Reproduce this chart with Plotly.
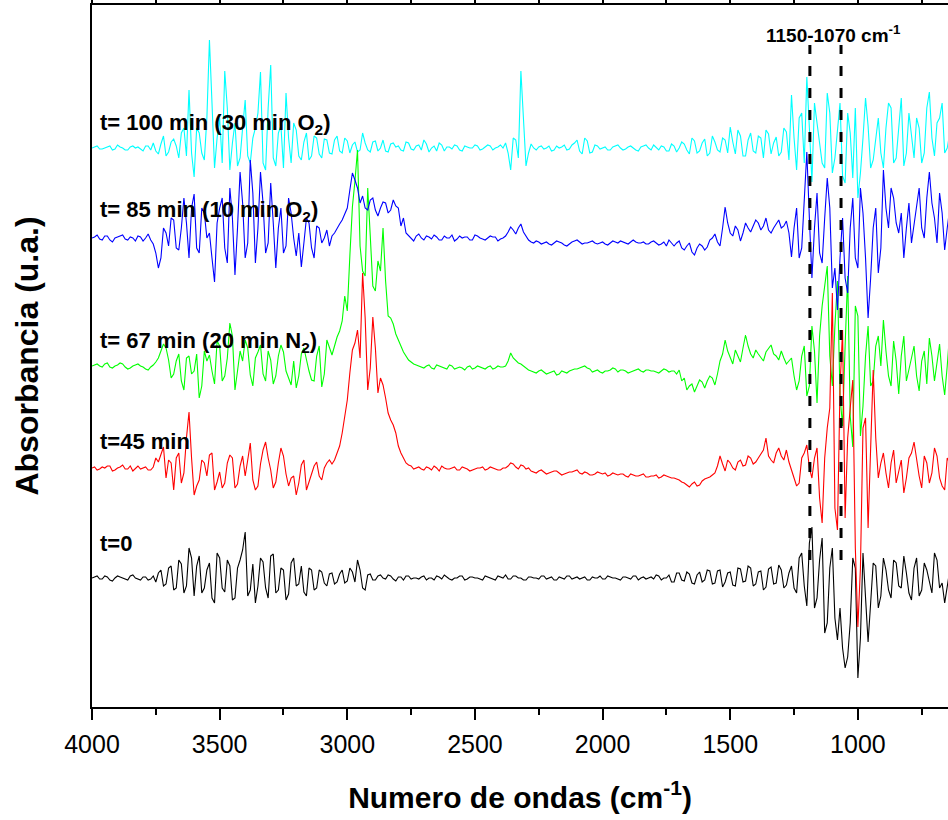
import plotly.graph_objects as go

# wavenumber grids (cm-1): main samples every 20 cm-1 and the samples lying in between
wavenumbers = list(range(4000, 639, -20))
wavenumbers_mid = list(range(3990, 649, -20))

# absorbance signals (arbitrary units), before stacking
abs_t0 = [0, 2, -1, 1, -3, 2, 0, -2, 3, -1, 1, -2, 2,
          5, -8, 10, -12, 18, -15, 30, -18, 22, -10, 15, -25, 20, -14, 12, -20, 18, 46, -12, -25,
          20, -10, 22, -15, 10, -22, 15, -8, 12, -18, 8, -10, 6, -8,
          5, -4, 8, -3, 6, 18, -10, 3,
          -2, 2, 0, 3, -1, 1, -2, 2, 0, -1, 2, 0, -2, 1, 3, -1, 0, 2, -2, 1,
          0, -1, 2, 0, -2, 1, 3, -1, 2, 0, -2, 1, 0, 2, -1, 1, -2, 0, 2, -1,
          1, 0, -2, 1, 0, -1, 2, 0, -1, 1, 0, 2, -2, 1, 0, -1, 2, 0,
          3, -4, 5, -3, 4, -6, 6, -2, 7, -5, 8, -4, 6, -8, 9, -3, 10, -6, 7, -9, 11, -5, 8, -7,
          12, -15, 25, -28, 51, -20, 40, -45, 30, -62, -70, -79, 20, -100, 25, -64, 15, -30, 20,
          -12, 18, -8, 22, -15, 10, -18, 15, -5, 25, -10, -25, 8]
abs_t0_mid = [1, -1, 2, -2, 0, 1, -1, 2, 0, -2, 1, -1,
              -4, 8, -6, 12, -10, 14, -8, 20,
              12, -15, 8, -20, 25, -10, 18, -22, 10, 28, -18, 14, -8, 16, -20, 24, -12, 8, -16, 20,
              -6, -14, 10, -12, 8, -5, 4,
              -6, 4, -5, 10, -4, 8, -12, 4, -2, 3, -1, 2, -3, 1, 2, -1, 0,
              1, -2, 0, 2, -1, 1, -2, 0, 2, -1, 1, 0, -2, 1, -1, 2, 0,
              -1, 2, 0, -2, 1, 0,
              -1, 2, 0, -2, 1, -1, 2, 0, -1, 1, -2, 0, 2, -1, 1, 0, -2, 1, -1, 2,
              0, -1, 1, 3, -2, 0, -4,
              5, -2, 6, -5, 3, -4, 8, -6,
              7, -9, 5, -7, 10, -4, 12, -8, 6, -12, 9, -6, 13, -10, 5,
              -10, 20, -8, 35, -30, 18, -55, 10, -40, -30, -90, -45, 10, -60, -20, -25, 12, -18,
              8, -20, 15, -10, 5, -22, 20, -12, 8, -15, 18, -5, -10]

abs_t45 = [0, -2, 1, 2, -3, 0, 3, -1, -3, 2, 0, -2, 1,
           6, 21, 8, -22, 15, -5, 56, -27,
           -12, 5, 13, -22, -4, -15, 13, -20, 2, -8, 25, -22, 4, 26, -2, -14, 20, -6, -10, -27,
           3, -22, -5, 6, -12, 5,
           4, 15, 35, 68, 118, 138, 195, 78, 151, 75, 83, 55, 43, 22, 10, 3, -1,
           1, -2, 0, 2, -3, 0, -1, 1, -2, 0, -3, -1, 0, -2, 1, -1, -2,
           0, 5, 1, 3, -1,
           -3, -5, -2, -6, -4, -3, -7, -5, -4, -2, -6, -5, -7, -4, -6, -8, -5, -7, -6, -9,
           -7, -8, -6, -9, -8, -10, -7, -9,
           -10, -12, -15, -19, -14, -17, -11, -9,
           -5, 12, -3, 5, -2, 8, 3, 10, 6, 14, 30, 8, 15, 12, 18, -2, -18,
           10, 23, -10, 20, -55, 40, 175, -62, 138, 30, 88, -159, 40, -60, 98, -10, 15,
           -20, 18, -5, -25, 10, 26, -8, 12, -15, 20, -10, -22, 5]
abs_t45_mid = [1, -1, 0, 2, -2, 1, -1, 2, 0, -1, 1, -2,
               10, 14, -10, 5, 10, -15, 30, 10,
               -18, 8, -8, 15, -14, -20, 5, 10, -16, 12, 8, -12, -18, 18, 10, -20, 5, 12, -18, -8,
               -15, 8, -14, 2, -8, 0, 8,
               8, 22, 50, 95, 125, 110, 150, 100, 120, 90, 70, 48, 35, 15, 5, 2, 0,
               -1, 1, -2, 0, 2, -1, 0, -2, 1, -1, -2, 0, 1, -1, 0, -2, 0,
               2, 4, -1, 2, 0, -4,
               -3, -4, -5, -3, -5, -6, -4, -3, -5, -4, -7, -6, -5, -5, -7, -6, -6, -8, -6, -8,
               -7, -9, -8, -7, -9, -8, -10,
               -11, -14, -17, -16, -18, -13, -10, -7,
               2, 4, 8, 0, 6, 2, 12, 4, 10, 18, 12, 5, 20, 8, 6,
               -10, -15, 15, 0, 10, -30, 10, 60, -40, 80, -50, 60, -80, -100, 50, 20, 30, 5,
               -5, 5, -15, 8, -10, 15, 8, -20, 5, -5, 12, -18, 10]

abs_t67 = [0, 2, -1, 3, -2, 1, 2, -3, 0, 2, -1, -4, 1,
           8, 22,
           6, -8, 12, -24, 10, -5, -32, 15, 11, -18, 20, -10, 43, -24, 15, 26, -9, 8, 21, -15,
           6, -10, 21, -5, -19, -22, 12, 6, -14, 10, -21, 26, 11,
           29, 45, 55, 159, 216, 95, 178, 80, 105, 138, 50, 42, 25, 14, 6, 2,
           0, -2, 1, -3, 0, -2, 1, -3, -1, -4, 0, -2, -1, -3, 0, -2, -1,
           0, 13, 5, 2, -2,
           -5, -7, -4, -8, -6, -9, -5, -7, -4, -3, -1, -2, -6, -4, -7, -5, -2, -6, -4, -7,
           -5, -3, -6, -4, -5, -7, -3, -6, -5,
           -4, -12, -20, -26, -14, -22, -10,
           -19, 5, 26, 8, 16, 4, 31, 12, 16, 8, 14, 21, 10, 15, 2, 8, -24,
           10, -30, 40, -37, 60, 100, -20, 85, -60, 90, -81, 50, -40, 40, -15, 30,
           46, -10, 25, -28, 30, -5, 20, -25, 15, 28, -15, 22, -29, 35]
abs_t67_mid = [1, 0, 2, -1, 0, 3, -1, -2, 1, 0, -3, -1,
               4, 15, 18, -12, 5, -15, 8, -8,
               12, -20, 5, -5, 25, -15, 8, 30, -5, 5, 18, -20, 14, -8, 15, -18, 10, 14, -12, 5,
               -10, 18, -5, -15, 20, -8, 18,
               20, 35, 70, 110, 185, 120, 90, 130, 75, 95, 85, 48, 32, 20, 10, 4, 1,
               -1, 0, -2, 1, -1, -3, 0, -2, -2, -1, -3, 0, -2, -1, -3, 0, -1,
               5, 8, 3, 0, -4, -6,
               -5, -6, -7, -5, -8, -6, -5, -3, -2, 0, -3, -5, -6, -5, -4, -3, -4, -5, -6, -4,
               -5, -4, -5, -6, -5, -4, -5,
               -8, -15, -24, -18, -20, -16, -15, -12,
               -8, 12, 15, 2, 10, 18, 20, 8, 12, 5, 18, 12, 6, 8, 5,
               -10, -15, 20, -20, 15, 30, 80, 10, 40, -30, 20, -50, 60, -70, 10, -20, 20, 0,
               15, -20, 5, 10, -15, 8, -10, 5, -18, 10, 5, -10, 0]

abs_t85 = [0, 3, -2, 2, -4, 1, 3, -2, 0, 2, -3,
           4, -6, -30,
           10, -8, 18, -12, 40, -20, 44, -15, 25, 5, -44, 30, -10, 50, -37, 66, -20, 78, -25, 66,
           -15, 55, -30, 30, -8, 25, -18, -29, 20, -10, 12, -5, 8, 2,
           10, 18, 30, 65, 50,
           42, 28, 40, 22, 36, 25, 38, 30, 20,
           2, -3, 4, -2, 1, 3, -2, 2, 0, -3, 2, 1, -2, 3, 0, -2, 2, 1, -1,
           2, 11, 4, 14, 2, -4,
           -3, -6, -4, -7, -3, -5, -8, -4, -2, -6, -5, -3, -6, -4, -7, -3, -5, -4, -6, -2,
           -5, -4, -6, -3, -7, -4,
           -2, -8, -3, -12, -5, -17, -6, -12,
           -2, 4, -8, 31, 5, 12, -3, 15, 6, 18, 8, 20, 5, 14, 10, 17,
           -19, 30, -10, 86, -40, 45, -25, 60, -50, -72, 20, -55, 40, -30, 25, -80, 10, -35,
           68, 10, 40, 5, -20, 35, 15, 50, 0, 66, 20, 45, -12, 30]
abs_t85_mid = [1, -1, 2, -2, 0, 2, -1, 1, -3, 1, 0, -2,
               -15, -20, 5, 20, -10, 10, 15, 30,
               -10, 30, 0, -20, 15, 40, -25, 20, 10, 35, -5, 45, 10, 35, -5, 15, 10, -15, 40, 0,
               5, -5, 15, -20, 10, 0, -8,
               5, 14, 25, 48, 58, 35, 30, 38, 28, 30, 35, 28, 32, 12, 5, -1, 2,
               0, 2, -1, 1, -2, 0, 3, -1, 0, 1, -2, 2, -1, 0, 1, -3, 0,
               6, 8, 10, 6, -2, -5,
               -4, -5, -6, -5, -4, -7, -6, -3, -4, -5, -4, -5, -5, -6, -5, -4, -3, -5, -4, -4,
               -5, -6, -4, -5, -6, -8, -5,
               -5, -10, -8, -14, -10, -8, -9, 0,
               -4, 10, 15, 2, 8, 5, 10, 12, 15, 12, 8, 10, 18, 12, 5,
               10, -20, 40, 20, 10, -15, 20, 30, -30, -20, -40, 10, -20, 50, -20, -40, 30, -10,
               30, 50, 15, 25, 10, -5, 30, 10, 40, 35, -5, 25, 10]

abs_t100 = [0, 2, -1, 1, -2, 3, 0, -2, 2, 1, -3, 2,
            5, -6, 12, -4, 9, -10, 20, 58,
            -29, 15, -12, 108, -20, 30, 77, -22, 25, -10, 48, -15, 20, 76, -22, 83, -18, 22, 55,
            -15, 18,
            -12, 15, -8, 10, -10, 8, -6, 12, -5, 7,
            3, -4, 15, -2, 6, -3, 8, -4, 5, 2, -3, 5, -2, 3, 8, -4, 2, 5, -3, 1,
            3, -2, 2, 0, 3, -2, 1, 2, 0, 3,
            5, -22, 8, 77, -18, 4,
            -2, 2, 0, -3, 2, 1, -2, 3, 8, -6, 7, -4, 2, 0, -2, 1, 3, -2, 1, 0,
            -3, 2, 0, 3, -2, 1, -3, 2, 0,
            4, -6, 7, -3, 9, -5, 6, -4, 8,
            21, -6, 12, -8, 15, -5, 10, 18, -6, 11, -4, 16,
            53, -22, 35, 71, -34, 25, -15, 55, -25, 20, -28, 35, -30, -50, 10, 22, -12, 30,
            -20, 45, -15, 25, -18, 35, -10, 20, -5, 56, -8, 30, -5, 15]
abs_t100_mid = [1, -1, 0, 2, -1, 1, -2, 1, 0, -1, 2, -2,
                -3, 4, -8, 6, 2, 15, -8, -5,
                20, -5, 30, 45, 10, -15, 40, 5, -18, 20, -8, 10, 35, -15, 40, -10, 15, -20, 10, 25,
                -8, 6, -12, 12, -6, 9, -5,
                8, -3, 10, -5, 6, -2, 5, -4, 7, 0, -3, 4, 1, -2, 6, -1, 2,
                -2, 4, 0, -3, 3, 1, -1, 2, -3, 1, 0, 2, -1, 3, -2, 1, 0,
                -5, 10, -10, 30, -5, 0,
                1, -1, 2, -2, 0, 3, -1, 5, -3, 10, -5, 3, -1, 1, -2, 2, 0, -1, 2, -2,
                1, 3, -2, 0, 2, -3, 4,
                -4, 6, -2, 10, -5, 5, -8, 12,
                -2, 10, -5, 6, 18, -8, 8, -3, 12, -10, 14, 5, -8, 20, -12,
                10, 30, -15, 20, 45, 0, -20, 35, -10, 45, -35, 15, 40, -25, 50, -20, 10, -5,
                20, 40, -10, 50, -5, 15, 30, -15, 40, 10, 25, 45, 0]

series_names = ["t=0", "t=45 min", "t= 67 min (20 min N<sub>2</sub>)",
                "t= 85 min (10 min O<sub>2</sub>)", "t= 100 min (30 min O<sub>2</sub>)"]
series_main = [abs_t0, abs_t45, abs_t67, abs_t85, abs_t100]
series_mid = [abs_t0_mid, abs_t45_mid, abs_t67_mid, abs_t85_mid, abs_t100_mid]
stack_offsets = [129, 239, 341, 469, 559]
series_colors = ["#000000", "#FF0000", "#00FF00", "#0000FF", "#00FFFF"]
label_y = [164, 266, 365, 496, 583]

band_edges = [1188, 1066]          # dashed guide lines as drawn (cm-1)
band_label = "1150-1070 cm<sup>-1</sup>"
band_y = [147, 662]

for a, b in zip(series_main, series_mid):
    assert len(a) == len(wavenumbers), len(a)
    assert len(b) == len(wavenumbers_mid), len(b)

FONT = "Liberation Sans, Arial, sans-serif"

fig = go.Figure()
draw_order = [0, 4, 2, 3, 1]
for k in draw_order:
    pts = sorted(zip(wavenumbers + wavenumbers_mid, series_main[k] + series_mid[k]),
                 key=lambda p: -p[0])
    fig.add_trace(go.Scatter(
        x=[p[0] for p in pts],
        y=[stack_offsets[k] + p[1] for p in pts],
        mode="lines",
        line=dict(color=series_colors[k], width=1.1),
        name=series_names[k],
        showlegend=False,
    ))

for xe in band_edges:
    fig.add_trace(go.Scatter(
        x=[xe, xe], y=band_y, mode="lines",
        line=dict(color="black", width=3, dash="10px,12px"),
        showlegend=False, hoverinfo="skip",
    ))

annotations = []
for name, yv in zip(series_names, label_y):
    annotations.append(dict(
        x=3978, y=yv, xref="x", yref="y", xanchor="left", yanchor="middle",
        text="<b>" + name + "</b>", showarrow=False,
        font=dict(family=FONT, size=22, color="black"),
    ))
annotations.append(dict(
    x=1094, y=673, xref="x", yref="y", xanchor="center", yanchor="middle",
    text="<b>" + band_label + "</b>", showarrow=False,
    font=dict(family=FONT, size=19, color="black"),
))

fig.update_layout(
    width=948, height=820,
    margin=dict(l=92, r=0, t=5, b=113, autoexpand=False),
    paper_bgcolor="white", plot_bgcolor="white",
    font=dict(family=FONT, color="black"),
    annotations=annotations,
    xaxis=dict(
        range=[4000, 647], automargin=False,
        tickmode="linear", tick0=0, dtick=500,
        ticks="outside", ticklen=11, tickwidth=2, tickcolor="black",
        ticklabelstandoff=3,
        minor=dict(dtick=250, ticks="outside", ticklen=6, tickwidth=2, tickcolor="black"),
        showline=True, linewidth=2, linecolor="black", mirror="ticks",
        showgrid=False, zeroline=False,
        tickfont=dict(family=FONT, size=25, color="black"),
        title=dict(text="<b>Numero de ondas (cm<sup>-1</sup>)</b>",
                   font=dict(family=FONT, size=30, color="black"), standoff=30),
    ),
    yaxis=dict(
        range=[0, 702], automargin=False,
        showticklabels=False, ticks="",
        showline=True, linewidth=2, linecolor="black", mirror=False,
        showgrid=False, zeroline=False,
        title=dict(text="<b>Absorbancia (u.a.)</b>",
                   font=dict(family=FONT, size=32, color="black"), standoff=42),
    ),
)

fig.write_html("out.html",
               config={"displayModeBar": False},
               post_script="document.body.style.margin='0px';document.body.style.padding='0px';")
